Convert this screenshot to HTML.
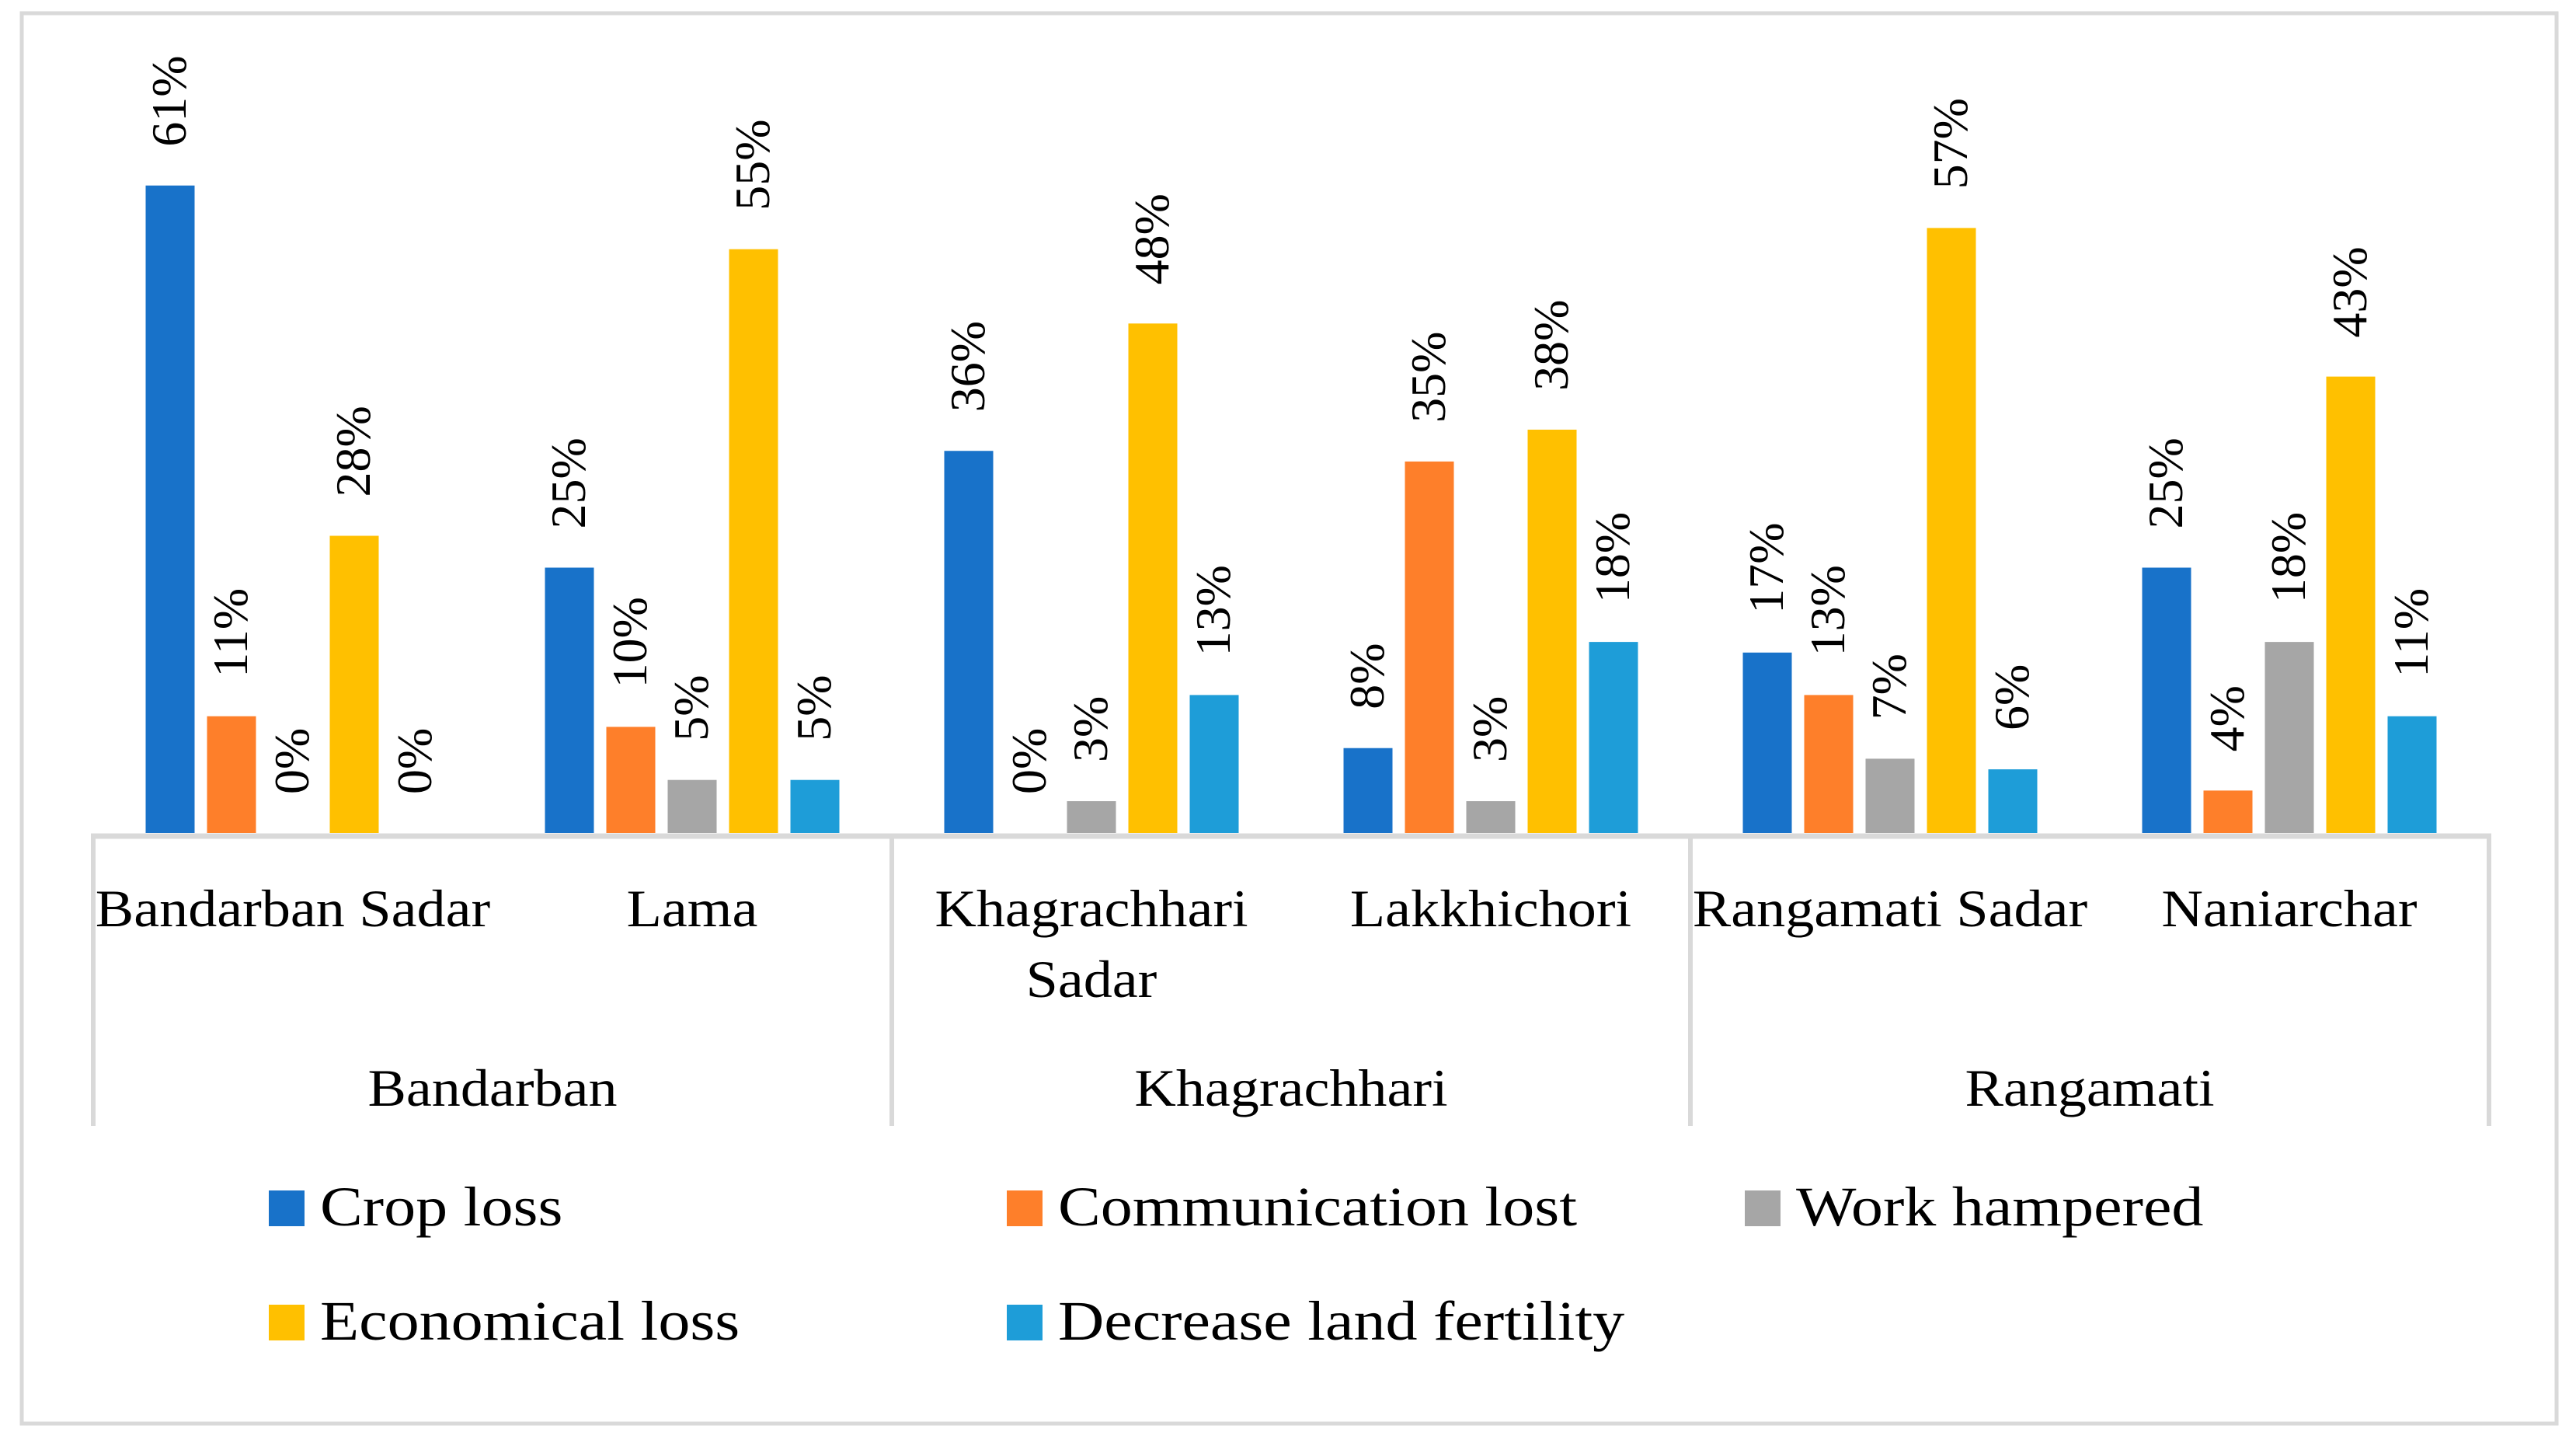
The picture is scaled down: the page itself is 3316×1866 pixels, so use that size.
<!DOCTYPE html>
<html><head><meta charset="utf-8"><style>
html,body{margin:0;padding:0;background:#fff}
svg{display:block}
text{font-family:"Liberation Serif",serif;fill:#000}
</style></head><body>
<svg id="chart" width="3316" height="1866" viewBox="0 0 3316 1866" xmlns="http://www.w3.org/2000/svg">
<rect x="28" y="17" width="3263" height="1815" fill="#fff" stroke="#d9d9d9" stroke-width="5"/>
<g id="bars"></g>
<g id="axis"></g>
<g id="legend"></g>
</svg>
<script>
const districts = ["Bandarban Sadar","Lama","Khagrachhari Sadar","Lakkhichori","Rangamati Sadar","Naniarchar"];
const regions = ["Bandarban","Khagrachhari","Rangamati"];
const seriesNames = ["Crop loss","Communication lost","Work hampered","Economical loss","Decrease land fertility"];
const cropLoss = [61,25,36,8,17,25];
const communicationLost = [11,10,0,35,13,4];
const workHampered = [0,5,3,3,7,18];
const economicalLoss = [28,55,48,38,57,43];
const decreaseLandFertility = [0,5,13,18,6,11];
const seriesValues = [cropLoss,communicationLost,workHampered,economicalLoss,decreaseLandFertility];
const colors = ["#1872c9","#fe7f2a","#a6a6a6","#ffc000","#1e9dd8"];

const NS="http://www.w3.org/2000/svg";
const plotL=120, plotR=3204, baseY=1072, pxPer=13.66;
const groupW=(plotR-plotL)/districts.length, step=79, barW=63;
function yScale(v){return baseY - v*pxPer;}
function xBar(g,s){return plotL + groupW*(g+0.5) + (s-2)*step - barW/2;}
function mk(tag,attrs,parent){const e=document.createElementNS(NS,tag);for(const k in attrs)e.setAttribute(k,attrs[k]);parent.appendChild(e);return e;}
function widen(t,f){const w=t.getComputedTextLength();t.setAttribute('textLength',w*f);t.setAttribute('lengthAdjust','spacingAndGlyphs');}
const bars=document.getElementById('bars');
seriesValues.forEach((vals,s)=>{
  vals.forEach((v,g)=>{
    const x=xBar(g,s), y=yScale(v);
    const r=mk('rect',{x:x,y:y,width:barW,height:baseY-y,fill:colors[s]},bars);
    
    
    const cx=x+barW/2+20, ty=y-50;
    const t=mk('text',{x:cx,y:ty,'font-size':64,transform:'rotate(-90 '+cx+' '+ty+')'},bars);
    
    
    t.textContent=v+'%';
  });
});
const axis=document.getElementById('axis');
const al=mk('line',{x1:plotL-3,y1:baseY+4,x2:plotR+3,y2:baseY+4,stroke:'#d9d9d9','stroke-width':7},axis);


for(let i=0;i<=regions.length;i++){
  const x=plotL+i*groupW*2;
  const l=mk('line',{x1:x,y1:baseY+1,x2:x,y2:1449,stroke:'#d9d9d9','stroke-width':6},axis);
  
  
}
districts.forEach((d,g)=>{
  const cx=plotL+groupW*(g+0.5);
  if(d==="Khagrachhari Sadar"){
    ["Khagrachhari","Sadar"].forEach((s,k)=>{
      const t=mk('text',{x:cx,y:1192+91*k,'font-size':68,'text-anchor':'middle'},axis);
      
      
      t.textContent=s; widen(t,1.09);
    });
  } else {
    const t=mk('text',{x:cx,y:1192,'font-size':68,'text-anchor':'middle'},axis);
    
    
    t.textContent=d; widen(t,1.09);
  }
});
regions.forEach((r,i)=>{
  const cx=plotL+groupW*(2*i+1);
  const t=mk('text',{x:cx,y:1423,'font-size':68,'text-anchor':'middle'},axis);
  
  
  t.textContent=r; widen(t,1.09);
});
const legend=document.getElementById('legend');
const lx=[346,1296,2246], ly=[1532,1679];
seriesNames.forEach((n,i)=>{
  const x=lx[i%3], y=ly[Math.floor(i/3)];
  const g=mk('g',{},legend);
  
  
  mk('rect',{x:x,y:y,width:46,height:46,fill:colors[i]},g);
  const t=mk('text',{x:x+66,y:y+45,'font-size':72},g);
  t.textContent=n; widen(t,1.14);
});
</script>
</body></html>
